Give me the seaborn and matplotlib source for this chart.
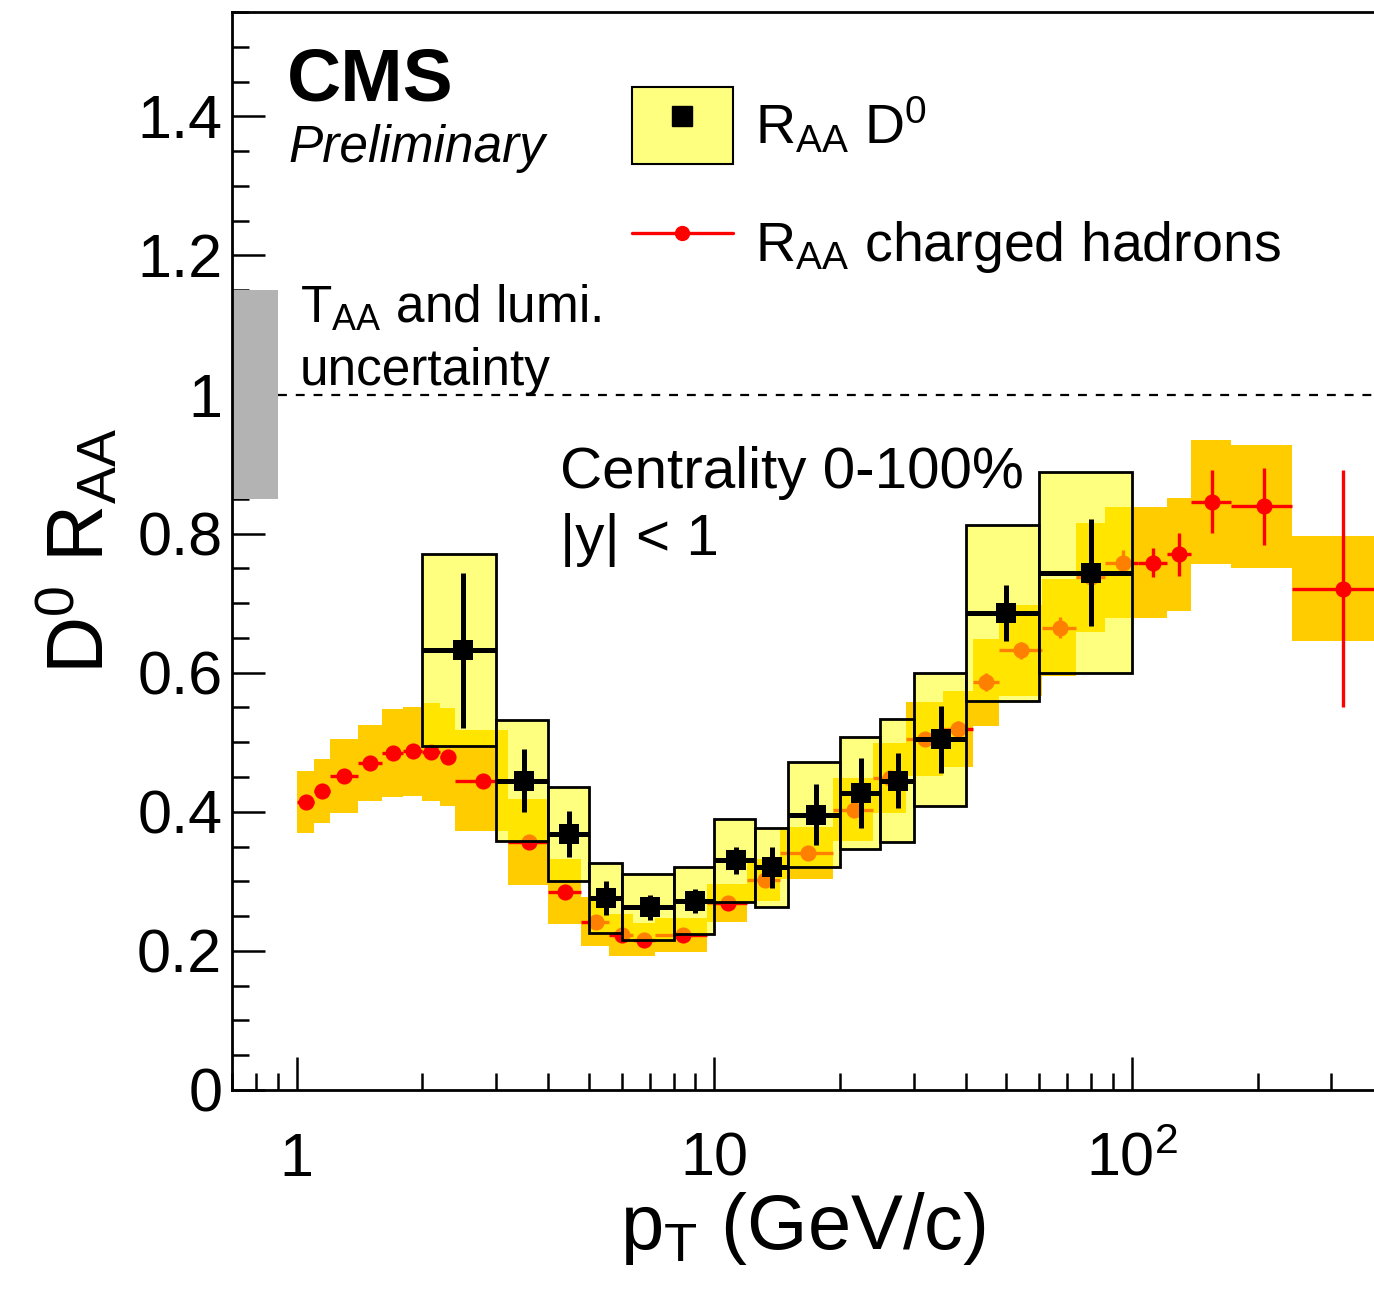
import numpy as np
import pandas as pd
import seaborn as sns
import matplotlib
matplotlib.use("Agg")
import matplotlib.pyplot as plt
from matplotlib.ticker import FixedLocator, FixedFormatter, MultipleLocator, LogLocator, NullFormatter
from matplotlib.lines import Line2D
from matplotlib.patches import Patch

# ---------------- D0 R_AA ----------------
d0_lo = [2, 3, 4, 5, 6, 8, 10, 12.5, 15, 20, 25, 30, 40, 60]
d0_hi = [3, 4, 5, 6, 8, 10, 12.5, 15, 20, 25, 30, 40, 60, 100]
d0_pt = [2.5, 3.5, 4.5, 5.5, 7, 9, 11.25, 13.75, 17.5, 22.5, 27.5, 35, 50, 80]
d0_raa = [0.632, 0.445, 0.368, 0.276, 0.263, 0.272, 0.330, 0.320, 0.396, 0.427, 0.445, 0.504, 0.686, 0.744]
d0_stat = [0.111, 0.045, 0.033, 0.024, 0.018, 0.017, 0.020, 0.029, 0.044, 0.050, 0.040, 0.048, 0.040, 0.077]
d0_syst = [0.138, 0.087, 0.068, 0.050, 0.048, 0.048, 0.059, 0.057, 0.076, 0.080, 0.088, 0.095, 0.127, 0.144]

# ---------------- charged hadron R_AA ----------------
h_lo = [1.0, 1.1, 1.2, 1.4, 1.6, 1.8, 2.0, 2.2, 2.4, 3.2, 4.0, 4.8, 5.6, 6.4, 7.2, 9.6,
        12.0, 14.4, 19.2, 24.0, 28.8, 35.2, 41.6, 48.0, 60.8, 73.6, 86.4, 103.6, 121.2, 138.4, 172.8, 242.0]
h_hi = [1.1, 1.2, 1.4, 1.6, 1.8, 2.0, 2.2, 2.4, 3.2, 4.0, 4.8, 5.6, 6.4, 7.2, 9.6, 12.0,
        14.4, 19.2, 24.0, 28.8, 35.2, 41.6, 48.0, 60.8, 73.6, 86.4, 103.6, 121.2, 138.4, 172.8, 242.0, 400.0]
h_pt = [1.05, 1.15, 1.3, 1.5, 1.7, 1.9, 2.1, 2.3, 2.8, 3.6, 4.4, 5.2, 6.0, 6.8, 8.4, 10.8,
        13.2, 16.8, 21.6, 26.4, 32.0, 38.4, 44.8, 54.4, 67.2, 80.0, 95.0, 112.4, 129.8, 155.6, 207.4, 321.0]
h_raa = [0.414, 0.430, 0.452, 0.470, 0.485, 0.487, 0.486, 0.479, 0.445, 0.357, 0.285, 0.242, 0.223, 0.216, 0.223, 0.269,
         0.302, 0.341, 0.403, 0.449, 0.505, 0.519, 0.586, 0.632, 0.665, 0.737, 0.758, 0.758, 0.770, 0.846, 0.839, 0.721]
h_stat = [0.002, 0.002, 0.002, 0.002, 0.002, 0.002, 0.002, 0.002, 0.002, 0.002, 0.002, 0.002, 0.002, 0.003, 0.003, 0.003,
          0.004, 0.005, 0.006, 0.008, 0.009, 0.011, 0.013, 0.012, 0.015, 0.020, 0.018, 0.021, 0.031, 0.045, 0.055, 0.170]
h_syst = [0.045, 0.046, 0.053, 0.055, 0.063, 0.064, 0.070, 0.070, 0.072, 0.062, 0.047, 0.035, 0.030, 0.024, 0.024, 0.027,
          0.030, 0.037, 0.045, 0.050, 0.053, 0.055, 0.063, 0.066, 0.070, 0.078, 0.080, 0.080, 0.081, 0.089, 0.088, 0.075]

# global T_AA + lumi uncertainty box
taa_lo, taa_hi = 0.7, 0.9
taa_center, taa_unc = 1.0, 0.15

xticks_major = [1, 10, 100]
xtick_labels = ["1", "10", r"$10^{2}$"]
yticks_major = [0, 0.2, 0.4, 0.6, 0.8, 1.0, 1.2, 1.4]
ytick_labels = ["0", "0.2", "0.4", "0.6", "0.8", "1", "1.2", "1.4"]

d0 = pd.DataFrame(dict(lo=d0_lo, hi=d0_hi, pt=d0_pt, raa=d0_raa, stat=d0_stat, syst=d0_syst))
ch = pd.DataFrame(dict(lo=h_lo, hi=h_hi, pt=h_pt, raa=h_raa, stat=h_stat, syst=h_syst))

# ---------------- style ----------------
sns.set_style("white")
plt.rcParams["font.family"] = ["Liberation Sans", "DejaVu Sans"]
plt.rcParams["mathtext.fontset"] = "custom"
plt.rcParams["mathtext.rm"] = "Liberation Sans"
plt.rcParams["mathtext.it"] = "Liberation Sans:italic"
plt.rcParams["mathtext.bf"] = "Liberation Sans:bold"
for key in ["text.color", "axes.labelcolor", "xtick.color", "ytick.color", "axes.edgecolor"]:
    plt.rcParams[key] = "black"

ORANGE = "#ffcc00"
YELLOW_A = (1.0, 1.0, 0.0, 0.5)

W, H = 1374, 1291
fig = plt.figure(figsize=(W / 100, H / 100), dpi=100)
ax = fig.add_axes([232 / W, (H - 1090) / H, (W - 232) / W, 1078 / H])
ax.set_xscale("log")
ax.set_xlim(0.7, 380)
ax.set_ylim(0, 1.55)

# T_AA box
ax.bar(x=taa_lo, height=2 * taa_unc, bottom=taa_center - taa_unc, width=taa_hi - taa_lo,
       align="edge", color="#b3b3b3", linewidth=0, zorder=1)
# unity line
ax.hlines(1.0, taa_hi, 400, colors="black", linestyles=(0, (4, 4)), linewidth=1.6, zorder=1)

# charged hadrons systematic boxes
ax.bar(x=ch["lo"], height=2 * ch["syst"], bottom=ch["raa"] - ch["syst"], width=ch["hi"] - ch["lo"],
       align="edge", color=ORANGE, linewidth=0, zorder=2)
# charged hadrons stat + bin width
ax.errorbar(ch["pt"], ch["raa"], xerr=[ch["pt"] - ch["lo"], ch["hi"] - ch["pt"]], yerr=ch["stat"],
            fmt="none", ecolor="red", elinewidth=2.4, capsize=0, zorder=3)
sns.scatterplot(data=ch, x="pt", y="raa", marker="o", s=135, color="red", linewidth=0,
                zorder=4, ax=ax, legend=False)

# D0 systematic boxes
ax.bar(x=d0["lo"], height=2 * d0["syst"], bottom=d0["raa"] - d0["syst"], width=d0["hi"] - d0["lo"],
       align="edge", facecolor=YELLOW_A, edgecolor="black", linewidth=2.0, zorder=5)
ax.errorbar(d0["pt"], d0["raa"], xerr=[d0["pt"] - d0["lo"], d0["hi"] - d0["pt"]], yerr=d0["stat"],
            fmt="none", ecolor="black", elinewidth=3.6, capsize=0, zorder=6)
sns.scatterplot(data=d0, x="pt", y="raa", marker="s", s=210, color="black", linewidth=0,
                zorder=7, ax=ax, legend=False)

# ---------------- axes ----------------
ax.xaxis.set_major_locator(FixedLocator(xticks_major))
ax.xaxis.set_major_formatter(FixedFormatter(xtick_labels))
ax.xaxis.set_minor_locator(LogLocator(base=10, subs=np.arange(2, 10), numticks=20))
ax.xaxis.set_minor_formatter(NullFormatter())
ax.yaxis.set_major_locator(FixedLocator(yticks_major))
ax.yaxis.set_major_formatter(FixedFormatter(ytick_labels))
ax.yaxis.set_minor_locator(MultipleLocator(0.05))

ax.tick_params(axis="both", which="major", direction="in", length=24, width=1.8, labelsize=44,
               colors="black", bottom=True, left=True, top=False, right=False)
ax.tick_params(axis="both", which="minor", direction="in", length=12, width=1.8, colors="black",
               bottom=True, left=True, top=False, right=False)
ax.tick_params(axis="x", which="major", pad=30)
ax.tick_params(axis="y", which="major", pad=7)

for side in ["left", "bottom", "top"]:
    ax.spines[side].set_linewidth(2.0)
    ax.spines[side].set_color("black")
ax.spines["right"].set_visible(False)

ax.set_xlabel(r"p$_{\mathrm{T}}$ (GeV/c)", fontsize=56)
ax.xaxis.set_label_coords(0.5, -0.093)
ax.set_ylabel(r"D$^{0}$ R$_{\mathrm{AA}}$", fontsize=57)
ax.yaxis.set_label_coords(-0.097, 0.5)

# ---------------- texts ----------------
ax.text(0.048, 0.918, "CMS", transform=ax.transAxes, fontsize=54, fontweight="bold", va="baseline")
ax.text(0.049, 0.861, "Preliminary", transform=ax.transAxes, fontsize=37, fontstyle="italic", va="baseline")
ax.text(0.0595, 0.712, r"T$_{\mathrm{AA}}$ and lumi.", transform=ax.transAxes, fontsize=37, va="baseline")
ax.text(0.0595, 0.654, "uncertainty", transform=ax.transAxes, fontsize=37, va="baseline")
ax.text(0.287, 0.558, "Centrality 0-100%", transform=ax.transAxes, fontsize=42, va="baseline")
ax.text(0.287, 0.496, "|y| < 1", transform=ax.transAxes, fontsize=42, va="baseline")

# ---------------- legend ----------------
h_d0 = (Patch(facecolor=YELLOW_A, edgecolor="black", linewidth=1.5),
        Line2D([], [], marker="s", color="black", linestyle="none", markersize=14))
h_ch = Line2D([], [], color="red", linewidth=2.4, marker="o", markersize=10)
ax.legend([h_d0, h_ch], [r"R$_{\mathrm{AA}}$ D$^{0}$", r"R$_{\mathrm{AA}}$ charged hadrons"],
          loc="upper left", bbox_to_anchor=(0.350, 0.930), bbox_transform=ax.transAxes,
          frameon=False, fontsize=40, borderpad=0, borderaxespad=0,
          handlelength=1.82, handleheight=1.754, handletextpad=0.4, labelspacing=0.72)

fig.savefig("out.png", dpi=100)
